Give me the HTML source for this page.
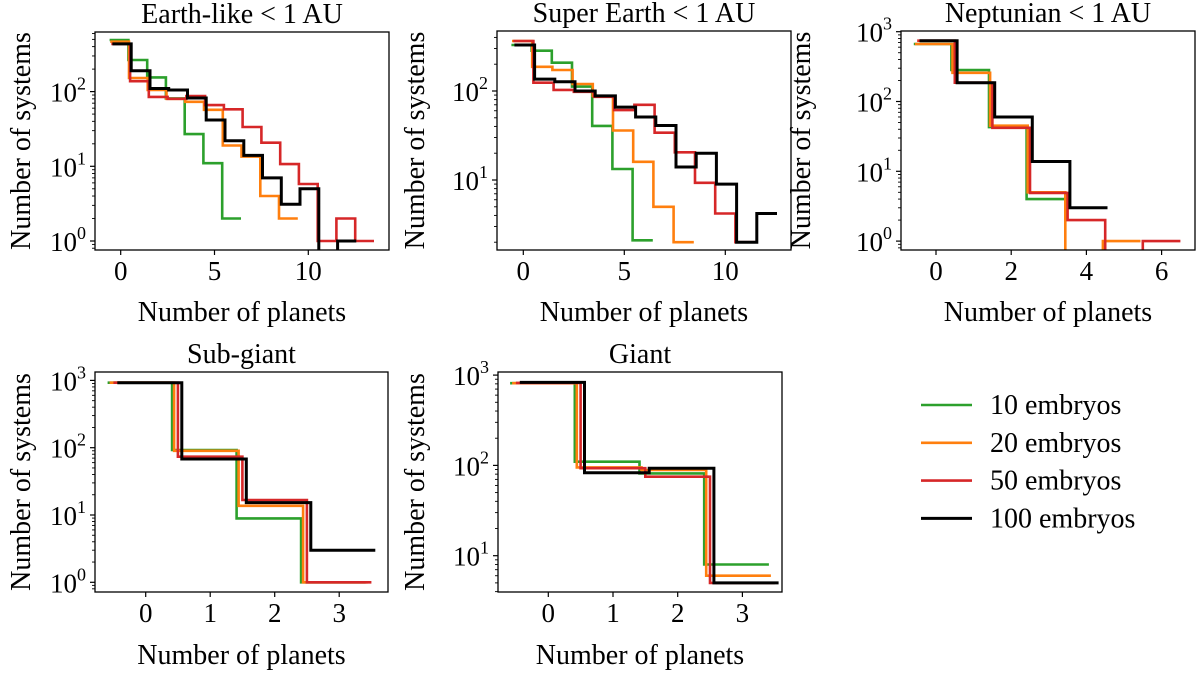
<!DOCTYPE html>
<html><head><meta charset="utf-8">
<style>
html,body{margin:0;padding:0;background:#fff;}
svg{display:block;font-family:"Liberation Serif","DejaVu Serif",serif;}
</style></head>
<body>
<svg id="fig" width="1200" height="675" viewBox="0 0 1200 675" xmlns="http://www.w3.org/2000/svg"></svg>
<script>
// ---- data ----
const seriesNames = ["10 embryos","20 embryos","50 embryos","100 embryos"];
const seriesColors = ["#2ca02c","#ff7f0e","#d62728","#000000"];
const seriesOffsets = [-0.09,-0.06,0.0,0.06];

const earthGreen = [490,265,155,81,27,11,2];
const earthOrange = [465,152,105,80,73,57,19,13.5,4,2];
const earthRed = [435,138,85,80,87,66,58,33.6,20.7,10.7,5.8,1,2,1];
const earthBlack = [435,190,110,105,82,41.7,22,14,7,3.1,5,0,1];

const superGreen = [329,284,208,112,40.5,13.3,2.1];
const superOrange = [365,187,172,120,88,36,16,5,2];
const superRed = [365,124,103,98,86,61,70,34,20.5,9.3,4.2,2];
const superBlack = [329,136,127,100,88,66,51,41,14,20,9,2,4.2];

const neptGreen = [666,283,43,4];
const neptOrange = [666,258,45,5,0,1];
const neptRed = [743,186,42,4.9,2,0,1];
const neptBlack = [743,186,60,13.8,3];

const subGreen = [925,92.5,8.9,1];
const subOrange = [925,90,13.7,1];
const subRed = [925,73.5,16.7,1];
const subBlack = [925,68,15.3,3];

const giantGreen = [813,110,81.5,8];
const giantOrange = [813,95,89,6];
const giantRed = [820,93,75,5];
const giantBlack = [830,83,93,5];

const xTicksA = [0,5,10];
const xTicksB = [0,2,4,6];
const xTicksC = [0,1,2,3];

const panels = [
 {name:"earth-like",title:"Earth-like < 1 AU",series:[earthGreen,earthOrange,earthRed,earthBlack],
  box:[95,32,389,250],x0:120.7,xs:18.76,yRef:0,yRefPx:241,yd:74.7,xticks:xTicksA,yticks:[0,1,2],xlabelY:321,ylabelX:30},
 {name:"super-earth",title:"Super Earth < 1 AU",series:[superGreen,superOrange,superRed,superBlack],
  box:[497,31,791,250],x0:523.3,xs:20.2,yRef:2,yRefPx:91,yd:89,xticks:xTicksA,yticks:[1,2],xlabelY:321,ylabelX:424},
 {name:"neptunian",title:"Neptunian < 1 AU",series:[neptGreen,neptOrange,neptRed,neptBlack],
  box:[901,31,1195,250],x0:936,xs:37.6,yRef:3,yRefPx:31.7,yd:69.8,xticks:xTicksB,yticks:[0,1,2,3],xlabelY:321,ylabelX:810},
 {name:"sub-giant",title:"Sub-giant",series:[subGreen,subOrange,subRed,subBlack],
  box:[95,372,388,592],x0:145.7,xs:64.5,yRef:0,yRefPx:582.3,yd:67.3,xticks:xTicksC,yticks:[0,1,2,3],xlabelY:664,ylabelX:30},
 {name:"giant",title:"Giant",series:[giantGreen,giantOrange,giantRed,giantBlack],
  box:[498,372,782,592],x0:548.3,xs:64.7,yRef:1,yRefPx:555.7,yd:90.3,xticks:xTicksC,yticks:[1,2,3],xlabelY:664,ylabelX:424}
];

const NS="http://www.w3.org/2000/svg";
const svg=document.getElementById("fig");
function mk(tag,attrs,parent){const e=document.createElementNS(NS,tag);for(const k in attrs)e.setAttribute(k,attrs[k]);(parent||svg).appendChild(e);return e;}

const FS=28, TFS=27;
panels.forEach((p,pi)=>{
  const [L,T,R,B]=p.box;
  const g=mk("g",{});
  
  
  const X=v=>p.x0+v*p.xs;
  const Y=v=> v<=0 ? B+20 : p.yRefPx-(Math.log10(v)-p.yRef)*p.yd;
  const cp=mk("clipPath",{id:"clip"+pi},g);
  mk("rect",{x:L,y:T,width:R-L,height:B-T},cp);
  p.series.forEach((vals,si)=>{
    const d=seriesOffsets[si];
    let pts=[];
    for(let n=0;n<vals.length;n++){
      const y=Y(vals[n]);
      pts.push([X(n-0.5+d),y]);pts.push([X(n+0.5+d),y]);
    }
    const path=mk("path",{d:"M"+pts.map(q=>q[0].toFixed(1)+","+q[1].toFixed(1)).join("L"),fill:"none",stroke:seriesColors[si],"stroke-width":si==3?3:2.6,"clip-path":"url(#clip"+pi+")"},g);
    
    
  });
  const fr=mk("rect",{x:L,y:T,width:R-L,height:B-T,fill:"none",stroke:"#000","stroke-width":1.3},g);
  
  
  p.xticks.forEach(t=>{
    const x=X(t);
    mk("line",{x1:x,y1:B,x2:x,y2:B+5,stroke:"#000","stroke-width":1.2},g);
    const tx=mk("text",{x:x,y:B+30,"text-anchor":"middle","font-size":TFS},g);
    tx.textContent=String(t);
    
    
  });
  const lo=p.yRef-(B-p.yRefPx)/p.yd, hi=p.yRef+(p.yRefPx-T)/p.yd;
  for(let e=Math.floor(lo);e<=Math.ceil(hi);e++){
    for(let m=1;m<10;m++){
      const v=Math.log10(m)+e;
      if(v<lo||v>hi)continue;
      const y=p.yRefPx-(v-p.yRef)*p.yd;
      mk("line",{x1:L,y1:y,x2:L-(m==1?5:3),y2:y,stroke:"#000","stroke-width":m==1?1.2:0.9},g);
    }
  }
  p.yticks.forEach(e=>{
    const y=p.yRefPx-(e-p.yRef)*p.yd;
    const tx=mk("text",{x:L-9,y:y+10,"text-anchor":"end","font-size":TFS},g);
    
    
    const a=mk("tspan",{},tx);a.textContent="10";
    const b=mk("tspan",{dy:-12,"font-size":18},tx);b.textContent=String(e);
  });
  const tt=mk("text",{x:(L+R)/2,y:T-9,"text-anchor":"middle","font-size":FS},g);
  tt.textContent=p.title;
  
  
  const xl=mk("text",{x:(L+R)/2,y:p.xlabelY,"text-anchor":"middle","font-size":FS},g);
  xl.textContent="Number of planets";
  
  
  const cy=(T+B)/2;
  const yl=mk("text",{x:p.ylabelX,y:cy,"text-anchor":"middle","font-size":FS,transform:"rotate(-90 "+p.ylabelX+" "+cy+")"},g);
  yl.textContent="Number of systems";
  
  
});

const lg=mk("g",{});


seriesNames.forEach((nm,i)=>{
  const y=405+i*37.8;
  const ln=mk("line",{x1:921,y1:y,x2:972,y2:y,stroke:seriesColors[i],"stroke-width":i==3?3:2.6},lg);
  
  
  const t=mk("text",{x:990,y:y+9,"font-size":FS},lg);
  t.textContent=nm;
  
  
});
</script>
</body></html>
